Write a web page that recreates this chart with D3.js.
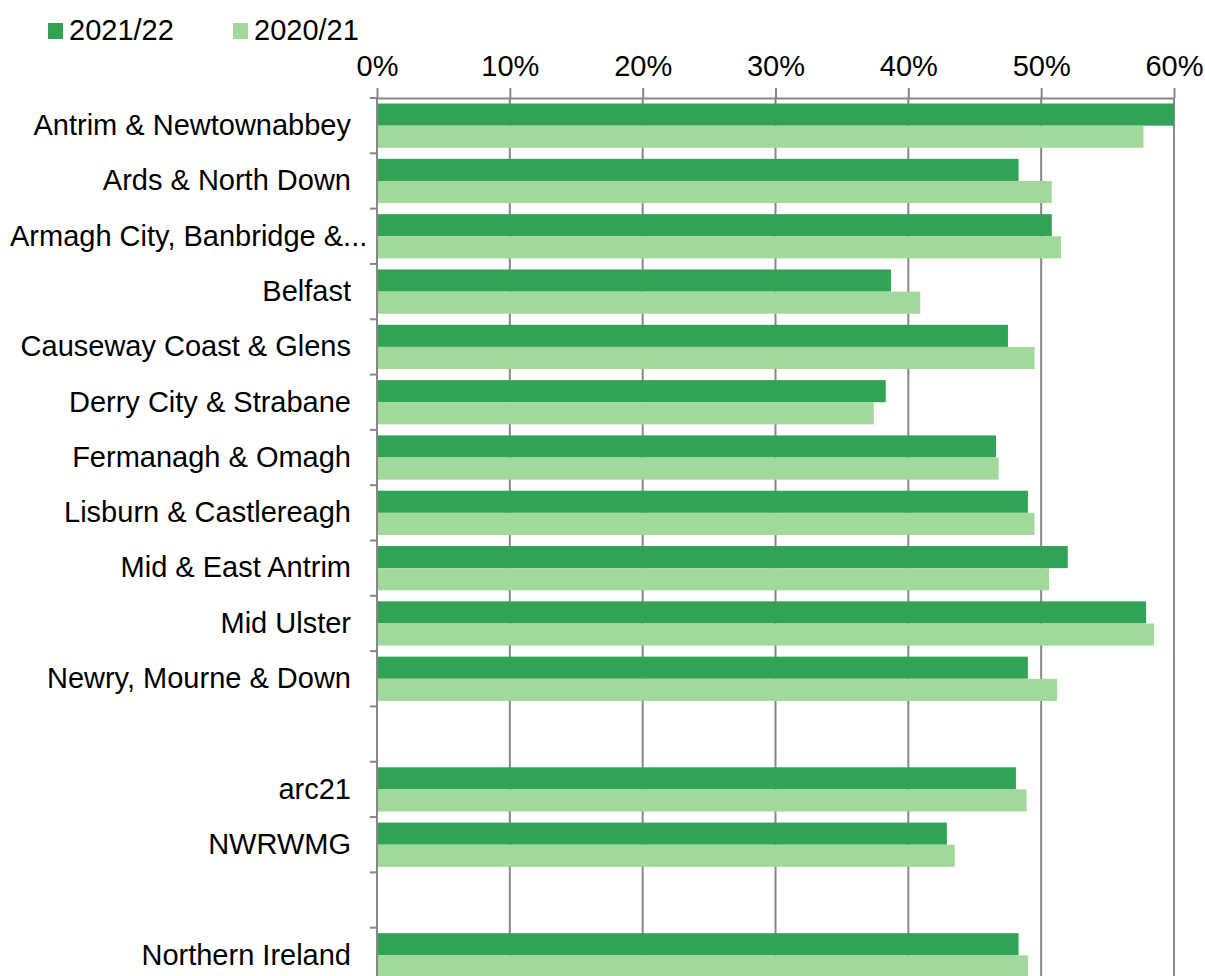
<!DOCTYPE html>
<html>
<head>
<meta charset="utf-8">
<script src="https://cdnjs.cloudflare.com/ajax/libs/d3/7.8.5/d3.min.js"></script>
<style>
  body { margin: 0; background: #fff; }
  text { font-family: "Liberation Sans", Arial, sans-serif; fill: #000; }
</style>
</head>
<body>
<div class="canvas"></div>
<script>
// chart data (percent), blank rows are spacers
const categories = ["Antrim & Newtownabbey", "Ards & North Down", "Armagh City, Banbridge &...", "Belfast",
  "Causeway Coast & Glens", "Derry City & Strabane", "Fermanagh & Omagh", "Lisburn & Castlereagh",
  "Mid & East Antrim", "Mid Ulster", "Newry, Mourne & Down", "", "arc21", "NWRWMG", "", "Northern Ireland"];
const series = ["2021/22", "2020/21"];
const values2122 = [60.0, 48.3, 50.8, 38.7, 47.5, 38.3, 46.6, 49.0, 52.0, 57.9, 49.0, null, 48.1, 42.9, null, 48.3];
const values2021 = [57.7, 50.8, 51.5, 40.9, 49.5, 37.4, 46.8, 49.5, 50.6, 58.5, 51.2, null, 48.9, 43.5, null, 49.0];
const xTicks = [0, 10, 20, 30, 40, 50, 60];

const colors = { "2021/22": "#31a354", "2020/21": "#a1d99b" };
const gridColor = "#878787";

// margins and dimensions
const w = 1205;
const h = 976;
const margin = { top: 98, left: 377, right: 31 };
const plotBottom = 983;
const labelGap = 26;

const svg = d3.select(".canvas").append("svg").attr("width", w).attr("height", h);

const rows = categories.map((c, i) => ({
  i, name: c, vals: [values2122[i], values2021[i]]
}));

// scales
const x = d3.scaleLinear().domain([0, 60]).range([margin.left, w - margin.right]);
const y = d3.scaleBand().domain(d3.range(categories.length)).range([margin.top, plotBottom]);
const ySub = d3.scaleBand().domain(series).range([0, y.bandwidth()]).paddingOuter(0.25);

// gridlines
svg.append("g")
  .selectAll("line")
  .data(xTicks.filter(t => t > 0))
  .join("line")
  .attr("x1", d => x(d)).attr("x2", d => x(d))
  .attr("y1", margin.top).attr("y2", plotBottom)
  .attr("stroke", gridColor).attr("stroke-width", 2);

// bars
const groups = svg.append("g")
  .selectAll("g")
  .data(rows)
  .join("g")
  .attr("transform", d => `translate(0, ${y(d.i)})`);

groups.selectAll("rect")
  .data(d => d.vals.map((v, k) => ({ key: series[k], v })).filter(e => e.v != null))
  .join("rect")
  .attr("x", x(0))
  .attr("y", d => ySub(d.key))
  .attr("width", d => x(d.v) - x(0))
  .attr("height", ySub.bandwidth())
  .attr("fill", d => colors[d.key]);

// top axis
const xAxis = svg.append("g")
  .attr("transform", `translate(0, ${margin.top})`)
  .call(d3.axisTop(x).tickValues(xTicks).tickFormat(d => d + "%").tickSize(10).tickSizeOuter(0).tickPadding(12));
xAxis.select(".domain").attr("stroke", gridColor).attr("stroke-width", 2);
xAxis.selectAll(".tick line").attr("stroke", gridColor).attr("stroke-width", 2);
xAxis.selectAll(".tick text").style("font-size", "29px");

// left axis labels
const yAxis = svg.append("g")
  .attr("transform", `translate(${margin.left}, 0)`)
  .call(d3.axisLeft(y).tickFormat(i => categories[i]).tickSize(0).tickPadding(labelGap));
yAxis.select(".domain").remove();
yAxis.selectAll(".tick text").style("font-size", "29px");

// labels too wide for the margin start at the left edge (as the truncated one does)
yAxis.selectAll(".tick text").each(function () {
  if (this.getComputedTextLength() > margin.left - labelGap - 4) {
    d3.select(this).attr("text-anchor", "start").attr("x", 10 - margin.left);
  }
});

// left axis line with ticks at band boundaries
svg.append("line")
  .attr("x1", margin.left).attr("x2", margin.left)
  .attr("y1", margin.top).attr("y2", plotBottom)
  .attr("stroke", gridColor).attr("stroke-width", 2);
svg.append("g")
  .selectAll("line")
  .data(d3.range(categories.length + 1))
  .join("line")
  .attr("x1", margin.left - 7).attr("x2", margin.left)
  .attr("y1", i => margin.top + i * y.step()).attr("y2", i => margin.top + i * y.step())
  .attr("stroke", gridColor).attr("stroke-width", 2);

// legend
const legendX = [48, 233];
const legend = svg.append("g").selectAll("g")
  .data(series)
  .join("g")
  .attr("transform", (d, i) => `translate(${legendX[i]}, 23)`);
legend.append("rect").attr("width", 15).attr("height", 16).attr("fill", d => colors[d]);
legend.append("text").attr("x", 21).attr("y", 17).style("font-size", "29px").text(d => d);
</script>
</body>
</html>
